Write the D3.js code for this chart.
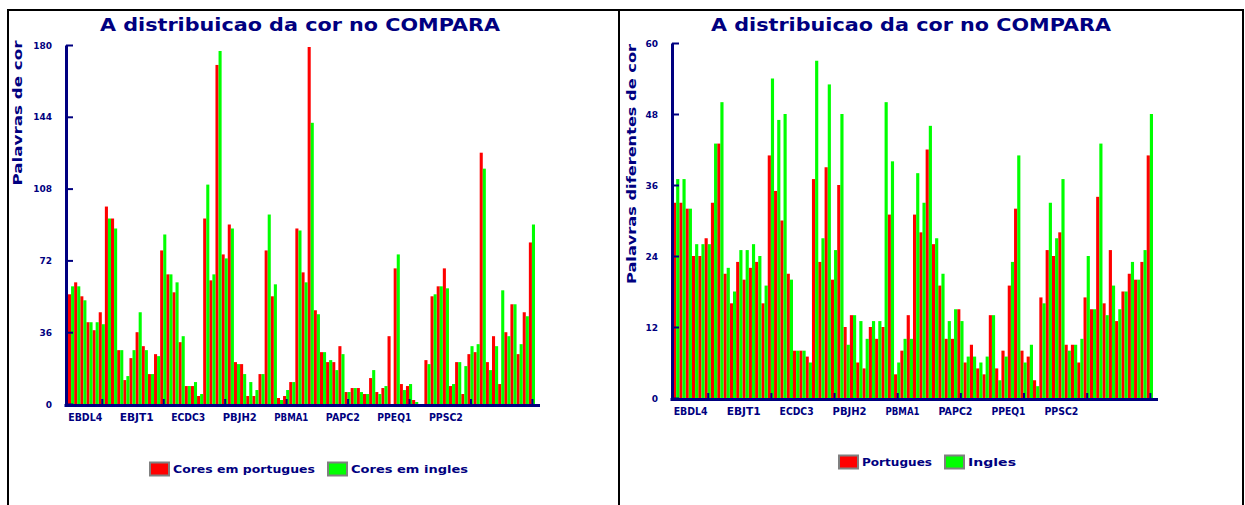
<!DOCTYPE html>
<html><head><meta charset="utf-8">
<script src="https://cdn.jsdelivr.net/npm/d3@7"></script>
<style>body{margin:0;background:#fff}svg{display:block}</style>
</head><body><svg id="c" width="1245" height="505"></svg>
<script>
const categories = ["EBDL4","EBJT1","ECDC3","PBJH2","PBMA1","PAPC2","PPEQ1","PPSC2"];
const ptLeft = [55,61,54,41,37,46,99,93,27,12,23,36,29,15,25,77,65,56,31,9,9,4,93,62,170,75,90,21,20,4,4,15,77,54,3,4,11,88,66,179,47,26,21,21,29,6,8,8,5,13,6,8,34,68,10,9,2,0,22,54,59,68,9,21,5,25,26,126,21,34,10,36,50,25,46,81];
const enLeft = [59,59,52,41,41,40,93,88,27,14,27,46,27,15,24,85,65,61,34,9,11,5,110,65,177,73,88,20,15,11,7,15,95,60,2,7,11,87,61,141,45,26,22,17,25,6,8,6,5,17,5,9,0,75,7,10,1,0,20,55,59,58,10,21,19,29,30,118,17,29,57,34,50,30,44,90];
const ptRight = [33,33,32,24,24,27,33,43,21,16,23,20,22,23,16,41,35,30,21,8,8,7,37,23,39,20,36,12,14,6,5,12,10,12,31,4,8,14,31,28,42,26,19,10,10,15,6,9,5,4,14,5,8,19,32,8,7,3,17,25,24,28,9,9,6,17,15,34,16,25,13,18,21,20,23,41];
const enRight = [37,37,32,26,26,26,43,50,22,18,25,25,26,24,19,54,47,48,20,8,8,6,57,27,53,25,48,9,14,13,10,13,13,50,40,6,10,10,38,33,46,27,21,13,15,13,7,7,6,7,14,3,7,23,41,6,9,2,16,33,27,37,8,9,10,24,15,43,14,19,15,18,23,20,25,48];
const ticksLeft = [0,36,72,108,144,180];
const ticksRight = [0,12,24,36,48,60];
const titleText = "A distribuicao da cor no COMPARA";

const NAVY = "#000080", RED = "#ff0000", GREEN = "#00ff00";
const FONT = "'DejaVu Sans', sans-serif";
const svg = d3.select("#c");

svg.append("rect").attr("x",8).attr("y",10).attr("width",1235).attr("height",505)
  .attr("fill","none").attr("stroke","#000").attr("stroke-width",2);
svg.append("line").attr("x1",619).attr("x2",619).attr("y1",10).attr("y2",505)
  .attr("stroke","#000").attr("stroke-width",2);

function panel(c){
  const g = svg.append("g");
  const n = c.pt.length;
  const x = d3.scaleBand().domain(d3.range(n)).range([c.x0, c.x1]);
  const xl = d3.scaleLinear().domain([0, n]).range([c.x0, c.x1]);
  const y = d3.scaleLinear().domain([0, d3.max(c.ticks)]).range([c.yb, c.yt]);
  const bw = x.bandwidth()/2;

  g.append("g").selectAll("rect").data(c.pt).join("rect")
    .attr("x",(d,i)=>x(i)).attr("y",d=>y(d)).attr("width",bw).attr("height",d=>y(0)-y(d))
    .attr("fill",RED);
  g.append("g").selectAll("rect").data(c.en).join("rect")
    .attr("x",(d,i)=>x(i)+bw).attr("y",d=>y(d)).attr("width",bw).attr("height",d=>y(0)-y(d))
    .attr("fill",GREEN);

  const ya = g.append("g").attr("transform",`translate(${c.ax},0)`)
    .call(d3.axisLeft(y).tickValues(c.ticks).tickSize(-7).tickSizeOuter(0).tickPadding(14));
  ya.select(".domain").attr("stroke",NAVY).attr("stroke-width",3);
  ya.selectAll(".tick line").attr("stroke",NAVY).attr("stroke-width",2);
  ya.selectAll(".tick text").attr("fill",NAVY).attr("font-family",FONT)
    .attr("font-weight","bold").attr("font-size",9).attr("dy","0.35em");

  g.append("line").attr("x1",c.ax-1.5).attr("x2",c.axEnd).attr("y1",c.yb+1.5).attr("y2",c.yb+1.5)
    .attr("stroke",NAVY).attr("stroke-width",3);
  const xa = g.append("g").attr("transform",`translate(0,${c.yb})`)
    .call(d3.axisBottom(xl).tickValues(d3.range(5.5, n, 10)).tickSize(-5).tickSizeOuter(0).tickFormat(""));
  xa.select(".domain").remove();
  xa.selectAll(".tick line").attr("stroke",NAVY).attr("stroke-width",2);

  const xp = d3.scalePoint().domain(categories).range([xl(2.8), xl(61.5)]);
  g.append("g").selectAll("text").data(categories).join("text")
    .attr("x",d=>xp(d)).attr("y",c.yb+17).attr("text-anchor","middle")
    .attr("fill",NAVY).attr("font-family",FONT).attr("font-weight","bold").attr("font-size",10)
    .attr("textLength",34).attr("lengthAdjust","spacingAndGlyphs").text(d=>d);

  g.append("text").attr("x",c.tx).attr("y",31).attr("text-anchor","middle")
    .attr("fill",NAVY).attr("font-family",FONT).attr("font-weight","bold").attr("font-size",17)
    .attr("textLength",400).attr("lengthAdjust","spacingAndGlyphs").text(titleText);

  g.append("text").attr("transform",`translate(${c.ytx},${c.yty}) rotate(-90)`)
    .attr("text-anchor","middle").attr("fill",NAVY).attr("font-family",FONT)
    .attr("font-weight","bold").attr("font-size",13)
    .attr("textLength",c.ytl).attr("lengthAdjust","spacingAndGlyphs").text(c.ytitle);

  const lg = g.append("g");
  c.legend.forEach(L=>{
    lg.append("rect").attr("x",L.bx).attr("y",c.ly-6.5).attr("width",19).attr("height",13)
      .attr("fill",L.color).attr("stroke","#808080").attr("stroke-width",2);
    lg.append("text").attr("x",L.bx+23).attr("y",c.ly+4).attr("fill",NAVY)
      .attr("font-family",FONT).attr("font-weight","bold").attr("font-size",11)
      .attr("textLength",L.tl).attr("lengthAdjust","spacingAndGlyphs").text(L.text);
  });
}

panel({pt:ptLeft, en:enLeft, ticks:ticksLeft, x0:68, x1:535, ax:66, axEnd:540, yb:404, yt:45,
  tx:300, ytx:22, yty:113, ytl:145, ytitle:"Palavras de cor",
  ly:469, legend:[{bx:150,color:RED,text:"Cores em portugues",tl:142},{bx:328,color:GREEN,text:"Cores em ingles",tl:117}]});
panel({pt:ptRight, en:enRight, ticks:ticksRight, x0:673, x1:1153, ax:672, axEnd:1158, yb:398, yt:43,
  tx:911, ytx:636, yty:164, ytl:240, ytitle:"Palavras diferentes de cor",
  ly:462, legend:[{bx:839,color:RED,text:"Portugues",tl:70},{bx:945,color:GREEN,text:"Ingles",tl:48}]});
</script></body></html>
